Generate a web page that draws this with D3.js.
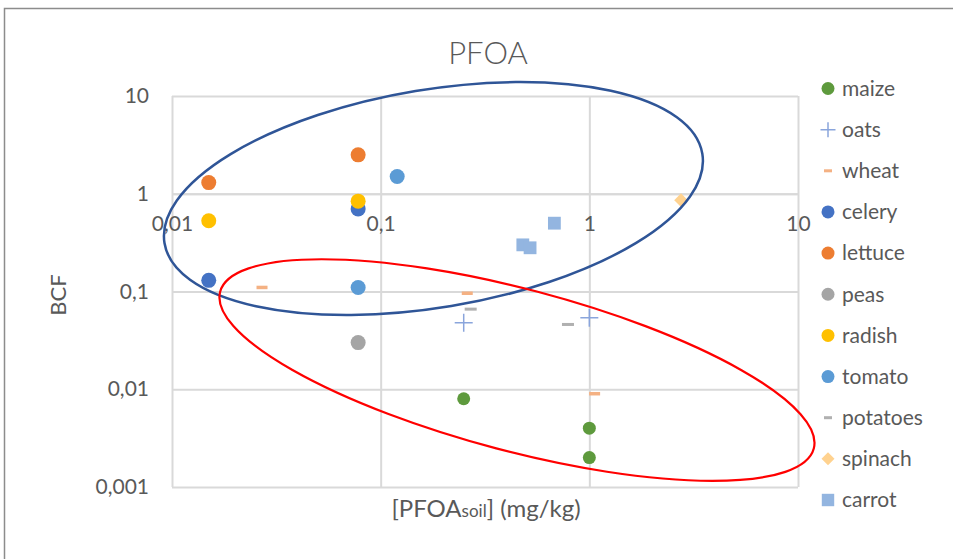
<!DOCTYPE html>
<html>
<head>
<meta charset="utf-8">
<script src="https://cdn.jsdelivr.net/npm/d3@7/dist/d3.min.js"></script>
<style>
  html, body { margin: 0; padding: 0; background: #fff; }
  svg { display: block; font-family: Lato, "Open Sans", sans-serif; }
</style>
</head>
<body>
<svg id="chart" width="953" height="559"></svg>
<script>
// PFOA bioconcentration factor vs. soil concentration, per crop
const seriesNames = ["maize", "oats", "wheat", "celery", "lettuce", "peas",
                     "radish", "tomato", "potatoes", "spinach", "carrot"];

// [soil concentration (mg/kg), BCF]
const maize    = [[0.25, 0.008], [1.0, 0.004], [1.0, 0.002]];
const oats     = [[0.25, 0.048], [1.0, 0.054]];
const wheat    = [[0.027, 0.11], [0.26, 0.096], [1.06, 0.009]];
const celery   = [[0.015, 0.13], [0.078, 0.70]];
const lettuce  = [[0.015, 1.3], [0.078, 2.5]];
const peas     = [[0.078, 0.030]];
const radish   = [[0.015, 0.53], [0.078, 0.84]];
const tomato   = [[0.12, 1.5], [0.078, 0.11]];
const potatoes = [[0.27, 0.066], [0.79, 0.046]];
const spinach  = [[2.75, 0.86]];
const carrot   = [[0.48, 0.30], [0.52, 0.28], [0.68, 0.50]];

const xTicks = [0.01, 0.1, 1, 10];
const yTicks = [0.001, 0.01, 0.1, 1, 10];

const seriesData = [maize, oats, wheat, celery, lettuce, peas,
                    radish, tomato, potatoes, spinach, carrot];

// marker style per series
const markerStyle = {
  maize:    { shape: "circle",  color: "#5e9a3d", size: 6.5 },
  oats:     { shape: "plus",    color: "#8aa5dc", size: 9 },
  wheat:    { shape: "dash",    color: "#f4b183", size: 5.5, h: 3.5 },
  celery:   { shape: "circle",  color: "#4472c4", size: 7.5 },
  lettuce:  { shape: "circle",  color: "#ed7d31", size: 7.5 },
  peas:     { shape: "circle",  color: "#a5a5a5", size: 7.5 },
  radish:   { shape: "circle",  color: "#ffc000", size: 7.5 },
  tomato:   { shape: "circle",  color: "#5b9bd5", size: 7.5 },
  potatoes: { shape: "dash",    color: "#b0b0b0", size: 6, h: 3 },
  spinach:  { shape: "diamond", color: "#ffd28f", size: 6.8 },
  carrot:   { shape: "square",  color: "#93b5e0", size: 6.4 }
};

const svg = d3.select("#chart");
const textColor = "#595959";
const gridColor = "#d9d9d9";

// outer chart frame
svg.append("path")
  .attr("d", "M4.5,559 V8.5 H953")
  .attr("fill", "none")
  .attr("stroke", "#8c8c8c")
  .attr("stroke-width", 1.5);

const plot = { left: 172, right: 798, top: 96, bottom: 487 };

const x = d3.scaleLog().domain([0.01, 10]).range([plot.left, plot.right]);
const y = d3.scaleLog().domain([0.001, 10]).range([plot.bottom, plot.top]);

const locale = d3.formatLocale({ decimal: ",", thousands: ".", grouping: [3], currency: ["", ""] });
const fmt = locale.format("~f");

// horizontal gridlines + y tick labels
const yAxis = d3.axisLeft(y)
  .tickValues(yTicks)
  .tickFormat(fmt)
  .tickSize(-(plot.right - plot.left))
  .tickPadding(23);
const gy = svg.append("g")
  .attr("transform", `translate(${plot.left},0)`)
  .call(yAxis);
gy.select(".domain").remove();
gy.selectAll(".tick line").attr("stroke", gridColor).attr("stroke-width", 2);
gy.selectAll(".tick text")
  .attr("fill", textColor)
  .attr("font-size", 21)
  .attr("font-family", "Lato, sans-serif");

// vertical gridlines
const xGrid = d3.axisBottom(x)
  .tickValues(xTicks)
  .tickFormat("")
  .tickSize(-(plot.bottom - plot.top));
const gxg = svg.append("g")
  .attr("transform", `translate(0,${plot.bottom})`)
  .call(xGrid);
gxg.select(".domain").remove();
gxg.selectAll(".tick line").attr("stroke", gridColor).attr("stroke-width", 2);

// x tick labels sit on the BCF = 1 line
const xAxis = d3.axisBottom(x)
  .tickValues(xTicks)
  .tickFormat(fmt)
  .tickSize(0)
  .tickPadding(22);
const gx = svg.append("g")
  .attr("transform", `translate(0,${y(1)})`)
  .call(xAxis);
gx.select(".domain").attr("stroke", gridColor).attr("stroke-width", 2);
gx.selectAll(".tick text")
  .attr("fill", textColor)
  .attr("font-size", 21)
  .attr("font-family", "Lato, sans-serif");

// marker drawing
function drawMarker(g, st) {
  const s = st.size;
  if (st.shape === "circle") {
    g.append("circle").attr("r", s).attr("fill", st.color);
  } else if (st.shape === "square") {
    g.append("rect").attr("x", -s).attr("y", -s).attr("width", 2 * s).attr("height", 2 * s).attr("fill", st.color);
  } else if (st.shape === "diamond") {
    g.append("path").attr("d", `M0,${-s} L${s},0 L0,${s} L${-s},0 Z`).attr("fill", st.color);
  } else if (st.shape === "dash") {
    g.append("rect").attr("x", -s).attr("y", -st.h / 2).attr("width", 2 * s).attr("height", st.h).attr("fill", st.color);
  } else if (st.shape === "plus") {
    g.append("path").attr("d", `M${-s},0 H${s} M0,${-s} V${s}`)
      .attr("stroke", st.color).attr("stroke-width", 1.5).attr("fill", "none");
  }
}

// data points
seriesNames.forEach((name, i) => {
  const st = markerStyle[name];
  const g = svg.append("g").attr("class", "series " + name);
  seriesData[i].forEach(([vx, vy]) => {
    const m = g.append("g").attr("transform", `translate(${x(vx)},${y(vy)})`);
    drawMarker(m, st);
  });
});

// highlight ellipses (centre in data units, radii in px)
const highlights = [
  { cx: 0.179, cy: 0.894, rx: 272.6, ry: 109, angle: -9.45, color: "#2f5597", width: 2.5 },
  { cx: 0.450, cy: 0.0157, rx: 307, ry: 81, angle: 14.8, color: "#ff0000", width: 2.2 }
];
highlights.forEach(h => {
  svg.append("ellipse")
    .attr("transform", `translate(${x(h.cx)},${y(h.cy)}) rotate(${h.angle})`)
    .attr("rx", h.rx).attr("ry", h.ry)
    .attr("fill", "none")
    .attr("stroke", h.color)
    .attr("stroke-width", h.width);
});

// title
svg.append("text")
  .attr("x", 488).attr("y", 64)
  .attr("text-anchor", "middle")
  .attr("fill", textColor)
  .attr("font-size", 31)
  .attr("font-weight", 300)
  .text("PFOA");

// axis titles
const xt = svg.append("text")
  .attr("x", 486).attr("y", 517)
  .attr("text-anchor", "middle")
  .attr("fill", textColor)
  .attr("font-size", 24);
xt.append("tspan").text("[PFOA");
xt.append("tspan").attr("font-size", 17).text("soil");
xt.append("tspan").text("] (mg/kg)");

svg.append("text")
  .attr("transform", "translate(66,295) rotate(-90)")
  .attr("text-anchor", "middle")
  .attr("fill", textColor)
  .attr("font-size", 22)
  .text("BCF");

// legend
const legend = svg.append("g").attr("transform", "translate(828,88.5)");
seriesNames.forEach((name, i) => {
  const item = legend.append("g").attr("transform", `translate(0,${i * 41.15})`);
  const st = Object.assign({}, markerStyle[name]);
  if (st.shape === "circle") st.size = 6.5;
  if (st.shape === "plus") st.size = 7.5;
  if (st.shape === "dash") { st.size = 4; st.h = 3; }
  if (st.shape === "diamond") st.size = 6.5;
  if (st.shape === "square") st.size = 6.2;
  drawMarker(item, st);
  item.append("text")
    .attr("x", 14).attr("y", 0)
    .attr("dy", "0.35em")
    .attr("fill", textColor)
    .attr("font-size", 21)
    .text(name);
});
</script>
</body>
</html>
